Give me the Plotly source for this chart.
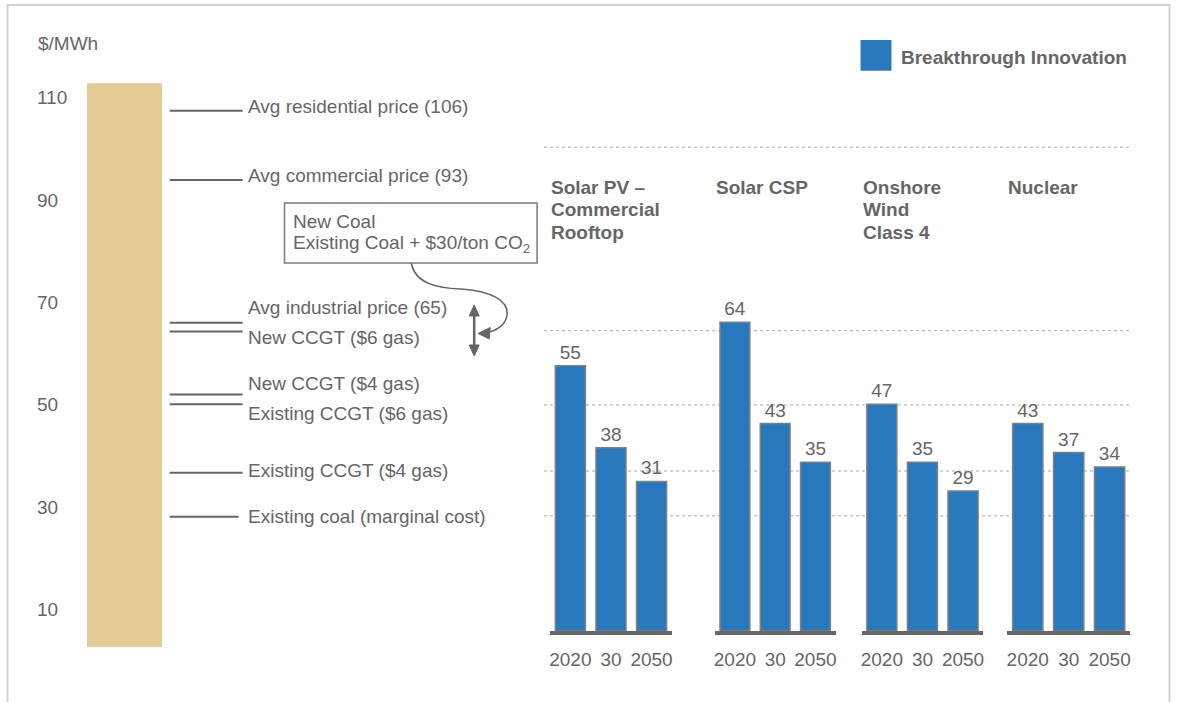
import plotly.graph_objects as go

W, H = 1180, 702

# ---------------- data ----------------
years = ["2020", "30", "2050"]
group_titles = [
    ["Solar PV –", "Commercial", "Rooftop"],
    ["Solar CSP"],
    ["Onshore", "Wind", "Class 4"],
    ["Nuclear"],
]
solar_pv = [55, 38, 31]
solar_csp = [64, 43, 35]
onshore_wind = [47, 35, 29]
nuclear = [43, 37, 34]
series_name = "Breakthrough Innovation"

scale_ticks = [10, 30, 50, 70, 90, 110]
scale_low = 2.7
scale_high = 112.8

ref_labels = [
    "Avg residential price (106)",
    "Avg commercial price (93)",
    "Avg industrial price (65)",
    "New CCGT ($6 gas)",
    "New CCGT ($4 gas)",
    "Existing CCGT ($6 gas)",
    "Existing CCGT ($4 gas)",
    "Existing coal (marginal cost)",
]
ref_levels = [107.4, 93.9, 66.0, 64.3, 52.0, 50.1, 36.7, 28.1]
grid_levels = [100.3, 64.45, 49.95, 37.05, 28.3]

box_lines = ["New Coal", "Existing Coal + $30/ton CO<sub>2</sub>"]
unit_label = "$/MWh"

# ---------------- styling / layout helpers ----------------
GRAY = "#666666"
BLUE = "#2878BE"
TAN = "#E2CC94"
FONT = "Liberation Sans, Arial, sans-serif"
FS = 19

def X(px):
    return px / W

def Y(py):
    return 1 - py / H

# label vertical offsets (px, positive = down) relative to each reference line
ref_label_offsets = [-4, -4, -15, 6, -11, 9, -2, 0]
ref_line_ends = [242, 242, 242, 242, 242, 242, 242, 238]

group_domains = [(550, 672), (715, 836), (862, 984), (1008, 1131)]
title_line_y = [187.3, 209.5, 232.5]

left_px_per_unit = 5.12
left_top = 110 + 97.5 / left_px_per_unit
left_bottom = left_top - H / left_px_per_unit

base_px = 631.0
bar_px_per_unit = (base_px - 322.3) / 64
bar_top = base_px / bar_px_per_unit

fig = go.Figure()

# tan scale bar
fig.add_trace(go.Bar(
    x=[0], y=[scale_high - scale_low], base=[scale_low], width=[1],
    marker=dict(color=TAN, line=dict(width=0)),
    xaxis="x", yaxis="y", showlegend=False, hoverinfo="skip",
))

series = [solar_pv, solar_csp, onshore_wind, nuclear]
for k, vals in enumerate(series):
    fig.add_trace(go.Bar(
        x=years, y=vals, name=series_name,
        marker=dict(color=BLUE, line=dict(color="#808080", width=1.5)),
        text=[str(v) for v in vals], textposition="outside",
        textfont=dict(size=FS, color=GRAY, family=FONT),
        constraintext="none", cliponaxis=False,
        xaxis=f"x{k+2}", yaxis="y2", showlegend=False,
    ))

layout = dict(
    width=W, height=H,
    margin=dict(l=0, r=0, t=0, b=0),
    paper_bgcolor="white", plot_bgcolor="rgba(0,0,0,0)",
    font=dict(family=FONT, size=FS, color=GRAY),
    bargap=0.26,
    showlegend=False,
    xaxis=dict(domain=[X(86), X(161.5)], range=[-0.5, 0.5], visible=False,
               anchor="y", fixedrange=True),
    yaxis=dict(domain=[0, 1], range=[left_bottom, left_top], anchor="free",
               position=X(32), tickvals=scale_ticks, ticklabelposition="inside",
               showgrid=False, zeroline=False, showline=False, ticks="",
               tickfont=dict(size=FS, color=GRAY, family=FONT)),
    yaxis2=dict(domain=[Y(base_px), 1], range=[0, bar_top], visible=False,
                anchor="x2"),
)
for k, (a, b) in enumerate(group_domains):
    layout[f"xaxis{k+2}"] = dict(
        domain=[X(a), X(b)], anchor="y2", type="category",
        showline=True, linecolor=GRAY, linewidth=3.5,
        ticks="outside", ticklen=8, tickcolor="rgba(0,0,0,0)",
        showgrid=False, zeroline=False,
        tickfont=dict(size=FS, color=GRAY, family=FONT),
    )
fig.update_layout(**layout)

shapes = []
annotations = []

# outer frame
shapes.append(dict(type="rect", xref="paper", yref="paper",
                   x0=X(6.5), x1=X(1170.5), y0=Y(5), y1=Y(720),
                   line=dict(color="#d2d2d2", width=2)))

# dotted gridlines on the right panel
for lv in grid_levels:
    shapes.append(dict(type="line", xref="paper", yref="y",
                       x0=X(544), x1=X(1131), y0=lv, y1=lv,
                       line=dict(color="#a8a8a8", width=1, dash="dot"), layer="below"))

# reference lines + labels
for lab, lv, off, xe in zip(ref_labels, ref_levels, ref_label_offsets, ref_line_ends):
    shapes.append(dict(type="line", xref="paper", yref="y",
                       x0=X(169), x1=X(xe), y0=lv, y1=lv,
                       line=dict(color=GRAY, width=2)))
    annotations.append(dict(text=lab, xref="paper", yref="y", x=X(245), y=lv,
                            xanchor="left", yanchor="middle", yshift=-off,
                            showarrow=False, font=dict(size=FS, color=GRAY)))

# unit label
annotations.append(dict(text=unit_label, xref="paper", yref="paper", x=X(35), y=Y(44),
                        xanchor="left", yanchor="middle", showarrow=False,
                        font=dict(size=FS, color=GRAY)))

# legend
shapes.append(dict(type="rect", xref="paper", yref="paper",
                   x0=X(861), x1=X(892), y0=Y(40), y1=Y(70.7),
                   fillcolor=BLUE, line=dict(width=0)))
annotations.append(dict(text=f"<b>{series_name}</b>", xref="paper", yref="paper",
                        x=X(900), y=Y(57.5), xanchor="left", yanchor="middle",
                        showarrow=False, font=dict(size=FS, color=GRAY)))

# group titles
for k, lines in enumerate(group_titles):
    for j, line in enumerate(lines):
        annotations.append(dict(text=f"<b>{line}</b>", xref=f"x{k+2} domain", yref="paper",
                                x=0, xshift=-1, y=Y(title_line_y[j]),
                                xanchor="left", yanchor="middle", showarrow=False,
                                font=dict(size=FS, color=GRAY)))

# New Coal box
shapes.append(dict(type="rect", xref="paper", yref="paper",
                   x0=X(284), x1=X(537), y0=Y(203), y1=Y(263),
                   line=dict(color="#7a7a7a", width=1.5)))
for txt, yc in zip(box_lines, [221, 244.3]):
    annotations.append(dict(text=txt, xref="paper", yref="paper", x=X(290), y=Y(yc),
                            xanchor="left", yanchor="middle", showarrow=False,
                            font=dict(size=FS, color=GRAY)))

def path(cmds):
    out = []
    for c in cmds:
        if isinstance(c, str):
            out.append(c)
        else:
            out.append(f"{X(c[0]):.5f},{Y(c[1]):.5f}")
    return " ".join(out)

# curved connector from the box
shapes.append(dict(type="path", xref="paper", yref="paper",
                   path=path(["M", (411, 263), "C", (415, 285), (440, 288), (460, 289),
                              "C", (492, 291), (508, 301), (507, 314),
                              "C", (506, 326), (495, 331), (487, 332.5)]),
                   line=dict(color=GRAY, width=1.6)))
shapes.append(dict(type="path", xref="paper", yref="paper",
                   path=path(["M", (478, 333.5), "L", (490, 327.5), "L", (489, 339), "Z"]),
                   fillcolor=GRAY, line=dict(color=GRAY, width=1)))

# double-headed vertical arrow
shapes.append(dict(type="line", xref="paper", yref="paper",
                   x0=X(474), x1=X(474), y0=Y(312), y1=Y(349),
                   line=dict(color=GRAY, width=2.5)))
shapes.append(dict(type="path", xref="paper", yref="paper",
                   path=path(["M", (474, 305), "L", (479, 316), "L", (469, 316), "Z"]),
                   fillcolor=GRAY, line=dict(color=GRAY, width=1)))
shapes.append(dict(type="path", xref="paper", yref="paper",
                   path=path(["M", (474, 356), "L", (479, 345), "L", (469, 345), "Z"]),
                   fillcolor=GRAY, line=dict(color=GRAY, width=1)))

fig.update_layout(shapes=shapes, annotations=annotations)
fig.write_html("out.html", config={"displayModeBar": False},
               post_script="document.body.style.margin='0';document.body.style.overflow='hidden';")
